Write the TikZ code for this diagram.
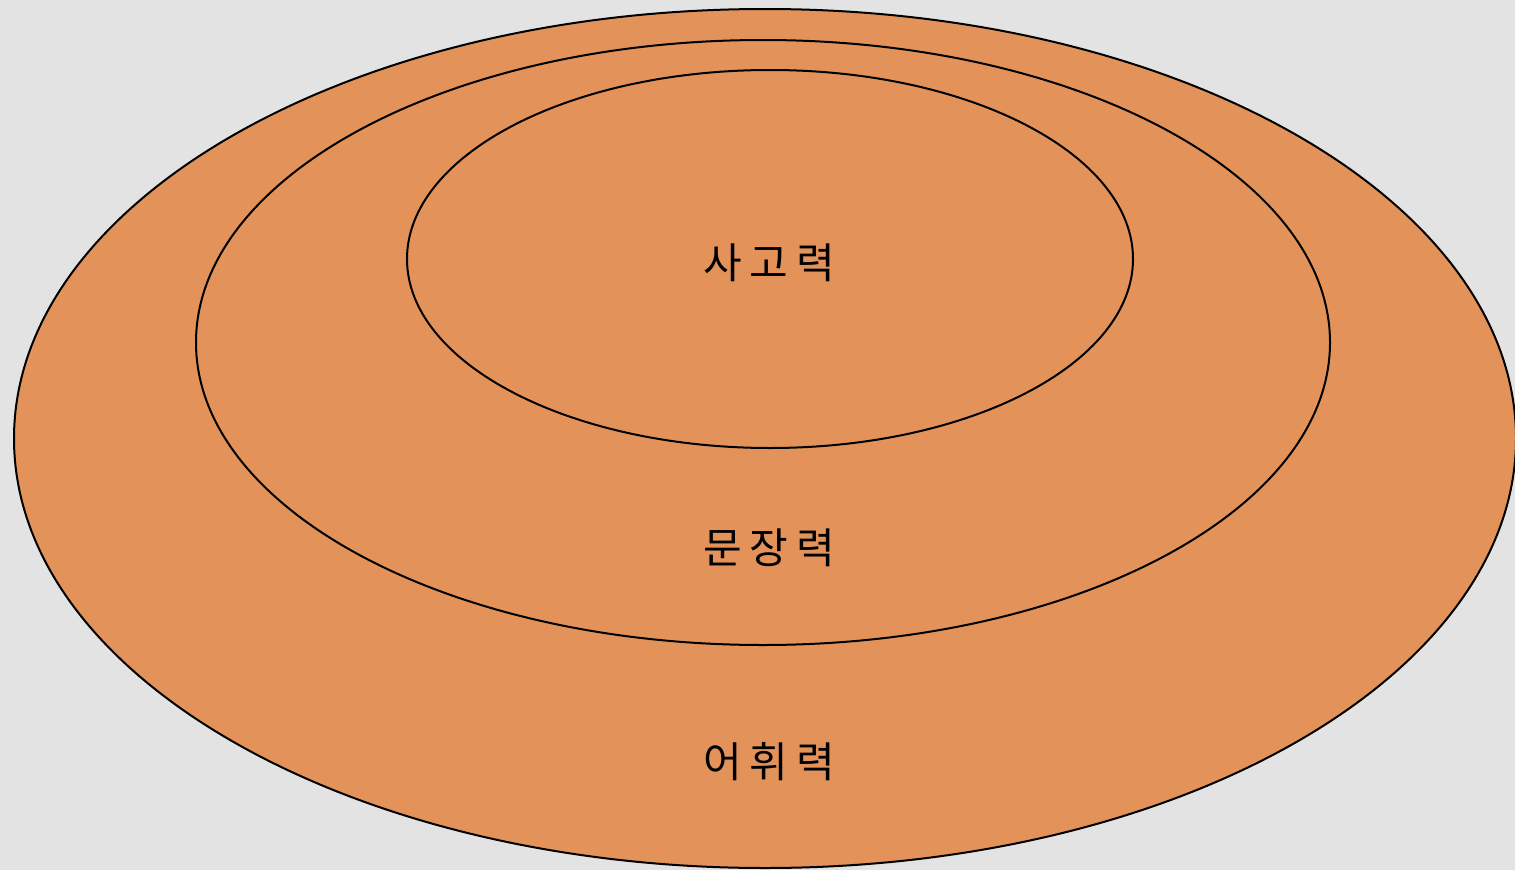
\documentclass[tikz,border=0pt]{standalone}
\usepackage{fontspec}
\newfontfamily\kor{Noto Sans CJK KR}
\definecolor{bg}{HTML}{E3E3E3}
\definecolor{ring}{HTML}{E3935A}
\begin{document}
\begin{tikzpicture}[x=1pt,y=-1pt,
  ringshape/.style={draw=black,line width=2pt,fill=ring},
  lbl/.style={font=\kor\fontsize{42}{48}\selectfont,text=black}]
\fill[bg] (0,0) rectangle (1515,870);
\useasboundingbox (0,0) rectangle (1515,870);
\draw[ringshape] (765,438.5) ellipse [x radius=751pt, y radius=429.5pt];
\draw[ringshape] (763,342.5) ellipse [x radius=567pt, y radius=302.5pt];
\draw[ringshape] (770,259) ellipse [x radius=363pt, y radius=189pt];
\node[lbl] (t1) at (769,263) {사\hspace{8pt}고\hspace{8pt}력};
\node[lbl] (t2) at (769,548) {문\hspace{8pt}장\hspace{8pt}력};
\node[lbl] (t3) at (769,762) {어\hspace{8pt}휘\hspace{8pt}력};
\end{tikzpicture}
\end{document}
